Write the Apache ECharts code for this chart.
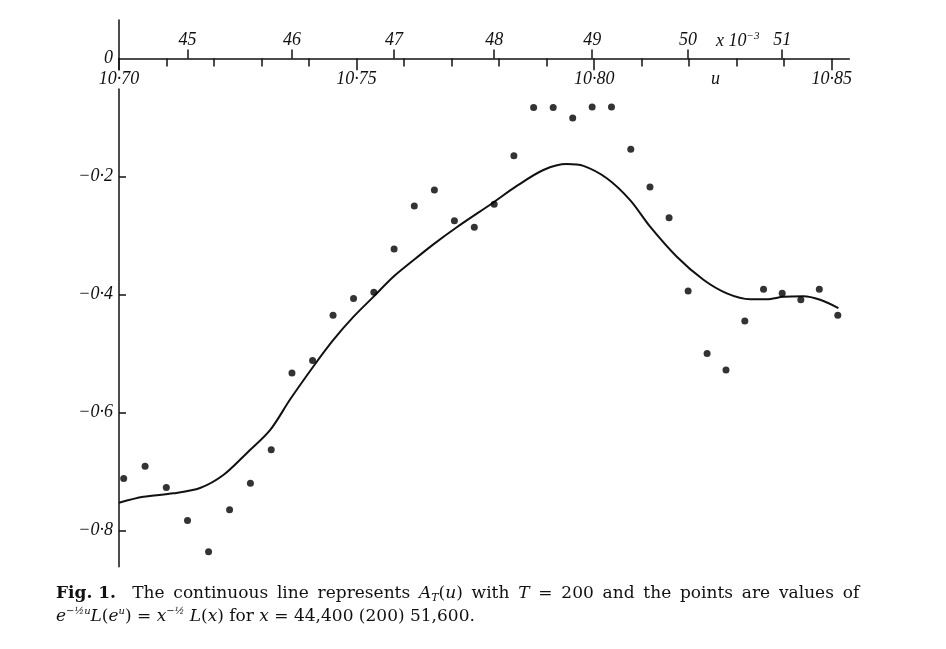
<!DOCTYPE html>
<html>
<head>
<meta charset="utf-8">
<script src="https://cdn.jsdelivr.net/npm/echarts@6/dist/echarts.min.js"></script>
<style>
html,body{margin:0;padding:0;background:#fff;}
#chart{width:946px;height:649px;}
</style>
</head>
<body>
<div id="chart"></div>
<script>
// u = ln x  (x = 44,400 (200) 51,600)
const pointU = [10.70099, 10.70549, 10.70996, 10.71442, 10.71885, 10.72327, 10.72766, 10.73204, 10.73640, 10.74074,
  10.74505, 10.74936, 10.75364, 10.75790, 10.76215, 10.76638, 10.77059, 10.77478, 10.77896, 10.78311,
  10.78726, 10.79138, 10.79549, 10.79958, 10.80365, 10.80771, 10.81175, 10.81577, 10.81978, 10.82377,
  10.82775, 10.83171, 10.83565, 10.83958, 10.84350, 10.84739, 10.85128];
const pointY = [-0.712, -0.691, -0.727, -0.783, -0.836, -0.765, -0.720, -0.663, -0.533, -0.512,
  -0.435, -0.407, -0.396, -0.323, -0.250, -0.223, -0.275, -0.286, -0.247, -0.165,
  -0.083, -0.083, -0.101, -0.082, -0.082, -0.154, -0.218, -0.270, -0.394, -0.500,
  -0.528, -0.445, -0.391, -0.398, -0.409, -0.391, -0.435];

// continuous line A_T(u), T = 200
const curveU = [10.70000, 10.70512, 10.71143, 10.71705, 10.72196, 10.72688, 10.73179, 10.73600, 10.74090, 10.74511,
  10.74932, 10.75353, 10.75774, 10.76195, 10.76616, 10.77109, 10.77879, 10.78372, 10.78932, 10.79424,
  10.79774, 10.80266, 10.80757, 10.81178, 10.81740, 10.82300, 10.82792, 10.83283, 10.83634, 10.83983,
  10.84404, 10.84756, 10.85141];
const curveY = [-0.753, -0.743, -0.737, -0.728, -0.706, -0.669, -0.630, -0.578, -0.522, -0.477,
  -0.438, -0.404, -0.370, -0.342, -0.315, -0.286, -0.244, -0.216, -0.189, -0.179,
  -0.182, -0.203, -0.240, -0.285, -0.336, -0.375, -0.398, -0.408, -0.408, -0.404,
  -0.403, -0.409, -0.423];

const uTicks = [10.70, 10.75, 10.80, 10.85];
const uMinorTicks = [10.71, 10.72, 10.73, 10.74, 10.76, 10.77, 10.78, 10.79, 10.81, 10.82, 10.83, 10.84];
const xThousandTicks = [45, 46, 47, 48, 49, 50, 51];
const yTickValues = [-0.2, -0.4, -0.6, -0.8];
const yLabelValues = [0, -0.2, -0.4, -0.6, -0.8];

const U_MIN = 10.70, U_MAX = 10.8537, Y_MIN = -0.8614, Y_MAX = 0.0653;
const topTickU = xThousandTicks.map(v => Math.log(v * 1000));

const FONT = 'Liberation Serif';
const INK = '#111';
const labelBase = {fontFamily: FONT, fontStyle: 'italic', fontSize: 18, color: INK};
const lineSt = {color: INK, width: 1.5};

const chart = echarts.init(document.getElementById('chart'), null, {renderer: 'canvas'});
const T = '\u2009';
const option = {
  animation: false,
  backgroundColor: '#fff',
  grid: [
    {left: 119, right: 96.7, top: 58.5, bottom: 82.3, containLabel: false},
    {left: 119, right: 96.7, top: 20, height: 38.5, containLabel: false}
  ],
  xAxis: [
    {
      gridIndex: 0, type: 'value', min: U_MIN, max: U_MAX, position: 'top', z: 3,
      axisLine: {show: true, onZero: false, lineStyle: lineSt},
      axisTick: {show: true, inside: true, length: 12, customValues: uTicks, lineStyle: lineSt},
      axisLabel: Object.assign({}, labelBase, {
        inside: true, customValues: uTicks, margin: 12, backgroundColor: '#fff',
        formatter: v => v.toFixed(2).replace('.', '·')
      }),
      splitLine: {show: false}
    },
    {
      gridIndex: 0, type: 'value', min: U_MIN, max: U_MAX, position: 'top',
      axisLine: {show: false, onZero: false},
      axisTick: {show: true, inside: true, length: 8, customValues: uMinorTicks, lineStyle: lineSt},
      axisLabel: {show: false},
      splitLine: {show: false}
    },
    {
      gridIndex: 0, type: 'value', min: U_MIN, max: U_MAX, position: 'top',
      axisLine: {show: false, onZero: false},
      axisTick: {show: true, length: 9, customValues: topTickU, lineStyle: lineSt},
      axisLabel: Object.assign({}, labelBase, {
        customValues: topTickU, margin: 9,
        formatter: v => String(Math.round(Math.exp(v) / 1000))
      }),
      splitLine: {show: false}
    },
    {
      gridIndex: 1, type: 'value', min: U_MIN, max: U_MAX, show: false
    }
  ],
  yAxis: [
    {
      gridIndex: 0, type: 'value', min: Y_MIN, max: 0,
      axisLine: {show: true, onZero: false, lineStyle: lineSt},
      axisTick: {show: true, inside: true, length: 7, customValues: yTickValues, lineStyle: lineSt},
      axisLabel: Object.assign({}, labelBase, {
        customValues: yLabelValues, margin: 6,
        formatter: v => v === 0 ? '0' : '−0·' + Math.round(Math.abs(v) * 10)
      }),
      splitLine: {show: false}
    },
    {
      gridIndex: 1, type: 'value', min: 0, max: Y_MAX,
      axisLine: {show: true, onZero: false, lineStyle: lineSt},
      axisTick: {show: false}, axisLabel: {show: false}, splitLine: {show: false}
    }
  ],
  title: {
    left: 51, top: 577,
    text: '{b|Fig. 1.}   The ' + T + 'continuous ' + T + 'line ' + T + 'represents ' + T + '{i|A}{sub|T}({i|u}) ' + T + 'with ' + T + '{i|T} ' + T + '= ' + T + '200 ' + T + 'and ' + T + 'the ' + T + 'points ' + T + 'are ' + T + 'values ' + T + 'of\n' +
          '{i|e}{sup|−½u}{i|L}({i|e}{sup|u}) = {i|x}{sup|−½} {i|L}({i|x}) for {i|x} = 44,400 (200) 51,600.',
    textStyle: {
      fontFamily: 'DejaVu Serif', fontSize: 17, fontWeight: 'normal', color: INK, lineHeight: 23,
      rich: {
        b: {fontFamily: 'DejaVu Serif', fontSize: 17, fontWeight: 'bold', color: INK},
        i: {fontFamily: 'DejaVu Serif', fontSize: 17, fontStyle: 'italic', color: INK},
        sub: {fontFamily: 'DejaVu Serif', fontSize: 11, fontStyle: 'italic', color: INK, padding: [9, 0, 0, 0]},
        sup: {fontFamily: 'DejaVu Serif', fontSize: 10, fontStyle: 'italic', color: INK, padding: [0, 0, 10, 0]}
      }
    }
  },
  graphic: [
    {
      type: 'text', left: 716, top: 31,
      style: {
        text: '{i|x} 10{s|−3}',
        rich: {
          i: {fontFamily: FONT, fontStyle: 'italic', fontSize: 18, fill: INK},
          s: {fontFamily: FONT, fontStyle: 'italic', fontSize: 11, fill: INK, padding: [0, 0, 10, 0]}
        },
        font: 'italic 18px "Liberation Serif"', fill: INK
      }
    },
    {
      type: 'text', left: 711, top: 70,
      style: {text: 'u', font: 'italic 18px "Liberation Serif"', fill: INK}
    }
  ],
  series: [
    {
      type: 'line', name: 'A_T(u)', xAxisIndex: 0, yAxisIndex: 0,
      data: curveU.map((u, i) => [u, curveY[i]]),
      smooth: 0.3, showSymbol: false, symbol: 'none',
      lineStyle: {color: INK, width: 2}, z: 2
    },
    {
      type: 'scatter', name: 'points', xAxisIndex: 0, yAxisIndex: 0,
      data: pointU.map((u, i) => [u, pointY[i]]),
      symbol: 'circle', symbolSize: 7,
      itemStyle: {color: '#000'}, z: 3
    }
  ]
};
chart.setOption(option);
</script>
</body>
</html>
